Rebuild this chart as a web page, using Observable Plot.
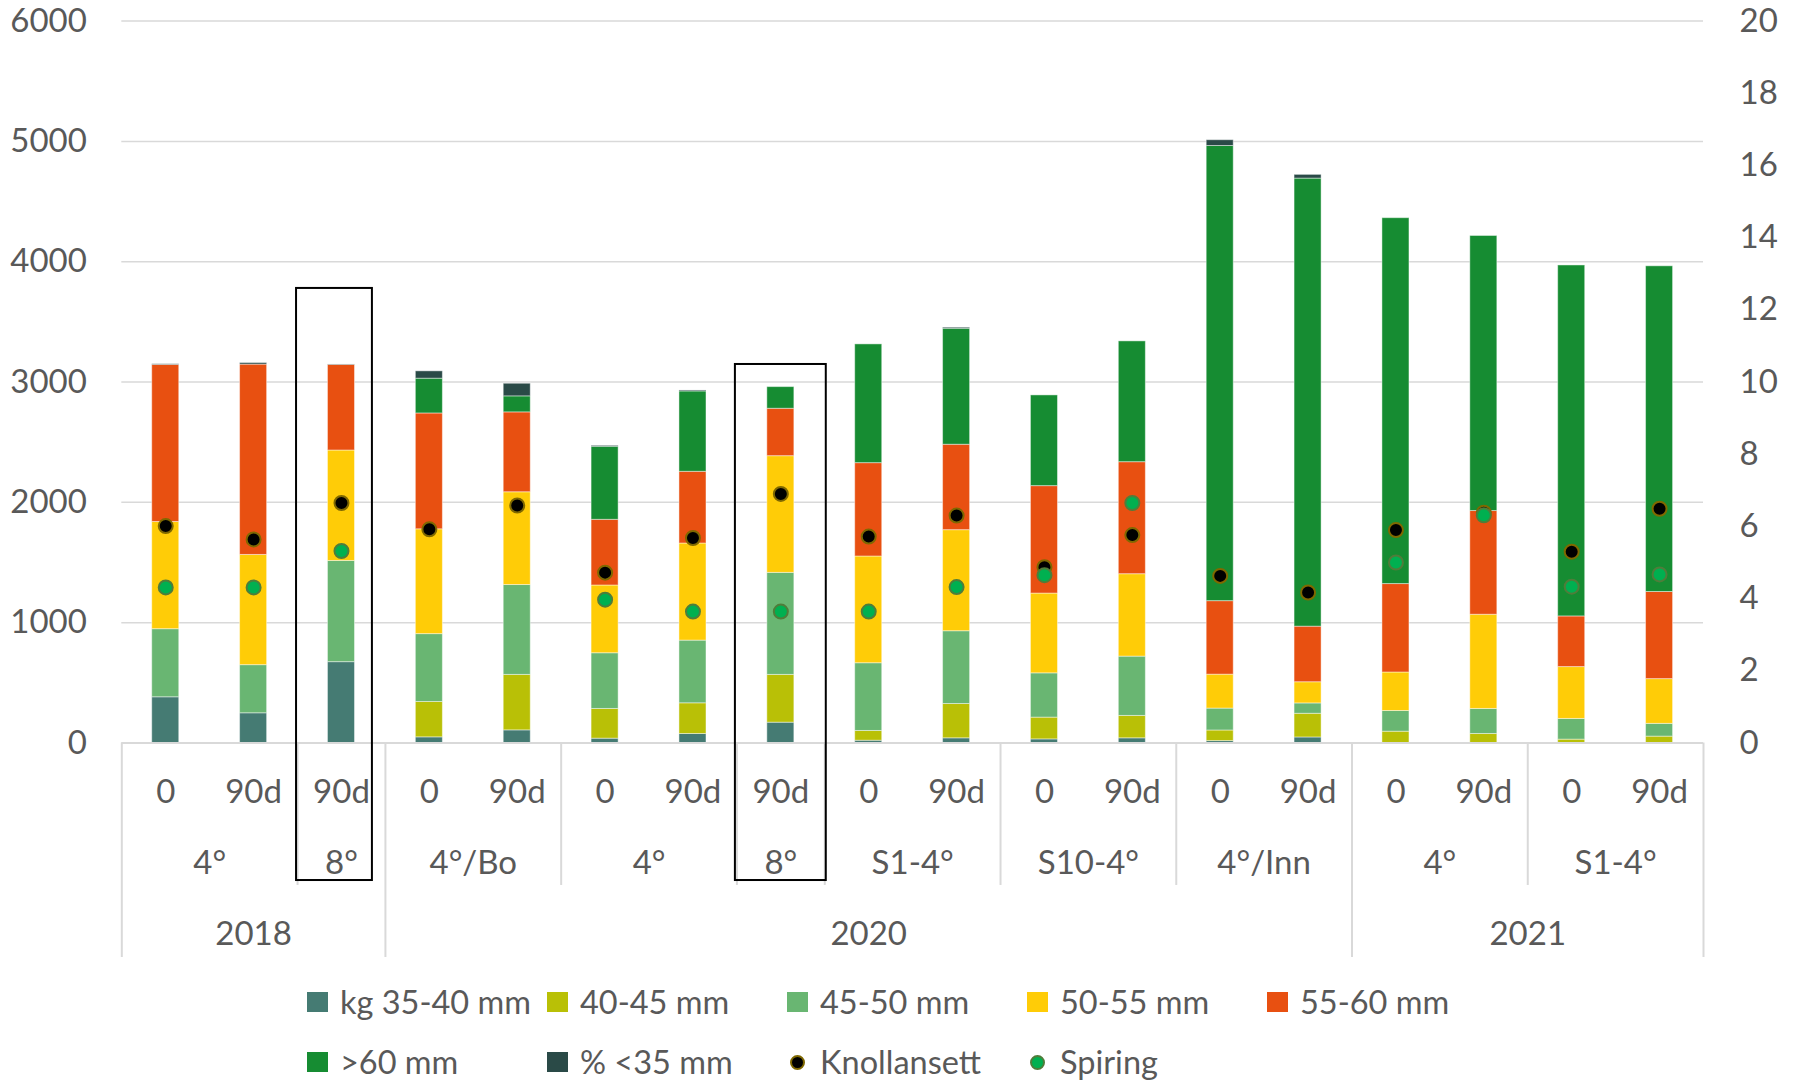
<!DOCTYPE html>
<html>
<head>
<meta charset="utf-8">
<script src="https://cdn.jsdelivr.net/npm/d3@7"></script>
<script src="https://cdn.jsdelivr.net/npm/@observablehq/plot@0.6"></script>
<style>
  html, body { margin: 0; padding: 0; background: #fff; }
  body { width: 1794px; height: 1081px; overflow: hidden; font-family: Lato, "Open Sans", sans-serif; color: #595959; }
  #chart svg { display: block; }
  #legend { position: relative; width: 1794px; height: 106px; }
  #legend .item { position: absolute; height: 40px; display: flex; align-items: center; font-size: 32.5px; line-height: 1; white-space: nowrap; color: #595959; }
  #legend .key { width: 21px; height: 20px; margin-right: 12px; display: flex; align-items: center; justify-content: center; flex: none; }
  #legend .key .dot { width: 11px; height: 11px; border-radius: 50%; border: 2px solid; flex: none; }
</style>
</head>
<body>
<div id="chart"></div>
<div id="legend"></div>
<script>
// ---------- categories ----------
const years  = ["2018","2018","2018","2020","2020","2020","2020","2020","2020","2020","2020","2020","2020","2020","2021","2021","2021","2021"];
const groups = ["4°","4°","8°","4°/Bo","4°/Bo","4°","4°","8°","S1-4°","S1-4°","S10-4°","S10-4°","4°/Inn","4°/Inn","4°","4°","S1-4°","S1-4°"];
const times  = ["0","90d","90d","0","90d","0","90d","90d","0","90d","0","90d","0","90d","0","90d","0","90d"];

// ---------- stacked series (left axis) ----------
const seriesNames = ["kg 35-40 mm","40-45 mm","45-50 mm","50-55 mm","55-60 mm",">60 mm","% <35 mm"];
const kg35_40 = [380, 247, 672,  47, 105,  36,  75, 169,  19,  39,  30,  39,   16,   46,    0,    0,    0,    0];
const mm40_45 = [  0,   0,   0, 294, 461, 247, 255, 397,  81, 285, 181, 186,   88,  197,   94,   75,   28,   53];
const mm45_50 = [566, 400, 841, 564, 747, 463, 521, 848, 563, 605, 368, 493,  182,   86,  172,  208,  172,  106];
const mm50_55 = [891, 916, 918, 871, 771, 563, 807, 970, 887, 840, 663, 685,  282,  176,  320,  783,  431,  372];
const mm55_60 = [1305,1582,711, 963, 664, 546, 596, 394, 776, 710, 893, 931,  611,  462,  735,  862,  421,  724];
const mmOver60= [  0,   0,   0, 289, 133, 607, 668, 180, 987, 964, 754,1004, 3783, 3724, 3041, 2286, 2917, 2707];
const pctUnder35 = [6, 13,  4,  61, 105,   8,   8,   0,   0,   9,   0,   0,   48,   31,    0,    0,    0,    0];

// ---------- point series (right axis) ----------
const knollansett = [6.01, 5.64, 6.65, 5.92, 6.58, 4.72, 5.68, 6.90, 5.72, 6.30, 4.87, 5.76, 4.63, 4.17, 5.90, 6.38, 5.30, 6.49];
const spiring     = [4.31, 4.31, 5.32, null, null, 3.97, 3.64, 3.64, 3.64, 4.32, 4.65, 6.65, null, null, 5.00, 6.31, 4.33, 4.67];

// ---------- axes ----------
const leftTicks  = [0, 1000, 2000, 3000, 4000, 5000, 6000];
const rightTicks = [0, 2, 4, 6, 8, 10, 12, 14, 16, 18, 20];
const leftMax = 6000, rightMax = 20;

// highlighted columns (framed)
const framedColumns = [2, 7];

// ---------- styling ----------
const seriesColors = ["#457b73", "#b9c006", "#69b672", "#ffcc07", "#e85011", "#168c32", "#2a4a47"];
const textColor = "#595959";
const gridColor = "#d9d9d9";

// ---------- build tables ----------
const seriesValues = [kg35_40, mm40_45, mm45_50, mm50_55, mm55_60, mmOver60, pctUnder35];
const stackData = seriesNames.flatMap((name, s) => seriesValues[s].map((v, i) => ({i, series: name, value: v})));
const cols = times.map((t, i) => ({i, time: t, group: groups[i], year: years[i]}));
const toLeft = v => v * leftMax / rightMax;
const knollData = knollansett.map((v, i) => ({i, v})).filter(d => d.v != null);
const spiringData = spiring.map((v, i) => ({i, v})).filter(d => d.v != null);

function spans(keyFn) {
  const out = [];
  cols.forEach((c, i) => {
    const k = keyFn(c);
    if (!out.length || out[out.length - 1].key !== k) out.push({key: k, label: k.split("|").pop(), first: i, last: i});
    else out[out.length - 1].last = i;
  });
  return out;
}
const groupSpans = spans(c => c.year + "|" + c.group);
const yearSpans = spans(c => c.year);
const yearBounds = [yearSpans[0].first - 0.5, ...yearSpans.map(s => s.last + 0.5)];
const groupBounds = groupSpans.slice(1).map(s => s.first - 0.5).filter(b => !yearBounds.includes(b));

const half = 0.5 / 3.25; // Excel gap width 225%

const plot = Plot.plot({
  width: 1794,
  height: 975,
  marginLeft: 121.3,
  marginRight: 91,
  marginTop: 20.6,
  marginBottom: 232.5,
  x: {domain: [-0.5, cols.length - 0.5], axis: null},
  y: {domain: [0, leftMax], axis: null},
  color: {domain: seriesNames, range: seriesColors},
  style: {fontFamily: "Lato, 'Open Sans', sans-serif", fontSize: "32px", color: textColor, background: "white"},
  marks: [
    Plot.gridY(leftTicks.filter(t => t > 0), {stroke: gridColor, strokeOpacity: 1, strokeWidth: 1.5}),
    Plot.axisY(leftTicks, {anchor: "left", label: null, tickSize: 0, tickPadding: 35, fontSize: 33, fill: textColor, tickFormat: d => String(d)}),
    Plot.axisY(rightTicks.map(toLeft), {anchor: "right", label: null, tickSize: 0, tickPadding: 36, fontSize: 33, fill: textColor, tickFormat: d => String(Math.round(d * rightMax / leftMax))}),
    Plot.rectY(stackData, {
      x1: d => d.i - half, x2: d => d.i + half, y: "value", fill: "series",
      stroke: "white", strokeOpacity: 0.45, strokeWidth: 1
    }),
    Plot.ruleY([0], {stroke: gridColor, strokeWidth: 2}),
    Plot.ruleX(groupBounds, {y1: 0, y2: -1184, stroke: gridColor, strokeWidth: 2}),
    Plot.ruleX(yearBounds, {y1: 0, y2: -1783, stroke: gridColor, strokeWidth: 2}),
    Plot.dot(knollData, {x: "i", y: d => toLeft(d.v), r: 7, fill: "#000", stroke: "#7f6800", strokeWidth: 2}),
    Plot.dot(spiringData, {x: "i", y: d => toLeft(d.v), r: 7, fill: "#00b050", stroke: "#4f7d3a", strokeWidth: 2}),
    Plot.text(cols, {x: "i", text: "time", frameAnchor: "bottom", dy: 59.5, fontSize: 33, fill: textColor}),
    Plot.text(groupSpans, {x: d => (d.first + d.last) / 2, text: "label", frameAnchor: "bottom", dy: 130.5, fontSize: 33, fill: textColor}),
    Plot.text(yearSpans, {x: d => (d.first + d.last) / 2, text: "label", frameAnchor: "bottom", dy: 201.5, fontSize: 33, fill: textColor}),
    Plot.rect([framedColumns[0]], {x1: d => d - 0.5, x2: d => d + 0.5, y1: -1143, y2: 3778, fill: "none", stroke: "#000", strokeWidth: 2, insetLeft: -1, insetRight: 13}),
    Plot.rect([framedColumns[1]], {x1: d => d - 0.5, x2: d => d + 0.5, y1: -1143, y2: 3146, fill: "none", stroke: "#000", strokeWidth: 2, insetLeft: -1.5, insetRight: -1.5})
  ]
});
document.getElementById("chart").appendChild(plot);

// ---------- legend ----------
const legendItems = [
  ...seriesNames.map((n, s) => ({label: n, type: "bar", color: seriesColors[s]})),
  {label: "Knollansett", type: "dot", color: "#000", border: "#7f6800"},
  {label: "Spiring", type: "dot", color: "#00b050", border: "#4f7d3a"}
];
const legend = document.getElementById("legend");
legendItems.forEach((it, k) => {
  const row = Math.floor(k / 5), col = k % 5;
  const el = document.createElement("div");
  el.className = "item";
  el.style.left = (307 + col * 240) + "px";
  el.style.top = (7 + row * 60) + "px";
  const key = document.createElement("div");
  key.className = "key";
  if (it.type === "bar") key.style.background = it.color;
  else {
    const d = document.createElement("div");
    d.className = "dot";
    d.style.background = it.color;
    d.style.borderColor = it.border;
    key.appendChild(d);
  }
  const txt = document.createElement("span");
  txt.textContent = it.label;
  el.appendChild(key);
  el.appendChild(txt);
  legend.appendChild(el);
});
</script>
</body>
</html>
